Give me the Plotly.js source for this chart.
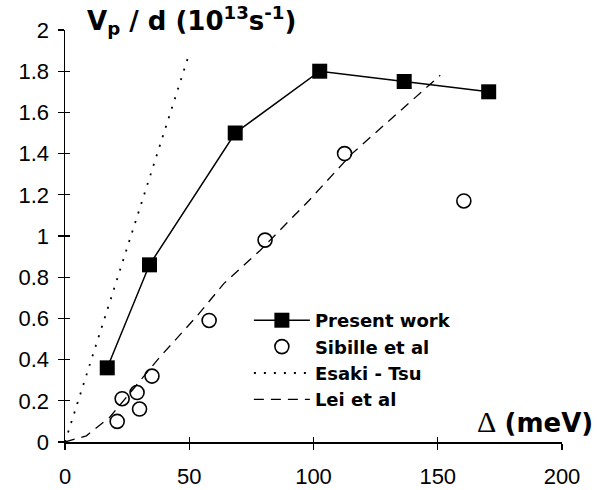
<!DOCTYPE html>
<html>
<head>
<meta charset="utf-8">
<script src="https://cdn.plot.ly/plotly-3.0.1.min.js"></script>
<style>html,body{margin:0;padding:0;background:#fff;}</style>
</head>
<body>
<div id="chart" style="width:597px;height:490px;"></div>
<script>
// Present work
const presentX = [17, 34, 68.5, 102.5, 136.5, 170.5];
const presentY = [0.36, 0.86, 1.50, 1.80, 1.75, 1.70];
// Sibille et al
const sibilleX = [21, 23, 29, 30, 35, 58, 80.5, 112.5, 160.5];
const sibilleY = [0.10, 0.21, 0.24, 0.16, 0.32, 0.59, 0.98, 1.40, 1.17];
// Esaki - Tsu
const esakiX = [0, 49.6];
const esakiY = [0, 1.87];
// Lei et al
const leiX = [0, 8.6, 18, 38, 53, 64, 78.5, 98, 115.5, 144.5, 151];
const leiY = [0, 0.03, 0.12, 0.41, 0.61, 0.77, 0.93, 1.17, 1.40, 1.71, 1.78];

const xTicks = [0, 50, 100, 150, 200];
const yTicks = [0, 0.2, 0.4, 0.6, 0.8, 1, 1.2, 1.4, 1.6, 1.8, 2];

const traces = [
  {x: presentX, y: presentY, name: 'Present work', type: 'scatter', mode: 'lines+markers',
   line: {color: '#000', width: 1.5}, marker: {symbol: 'square', size: 15, color: '#000'}},
  {x: sibilleX, y: sibilleY, name: 'Sibille et al', type: 'scatter', mode: 'markers',
   marker: {symbol: 'circle-open', size: 14, color: '#000', line: {width: 1.6, color: '#000'}}},
  {x: esakiX, y: esakiY, name: 'Esaki - Tsu', type: 'scatter', mode: 'lines',
   line: {color: '#000', width: 1.8, dash: '2px,8px'}},
  {x: leiX, y: leiY, name: 'Lei et al', type: 'scatter', mode: 'lines',
   line: {color: '#000', width: 1.3, dash: '10px,7px'}},
  // invisible helper for inside ticks
  {x: [0], y: [0], xaxis: 'x2', yaxis: 'y2', mode: 'markers', marker: {opacity: 0}, showlegend: false, hoverinfo: 'skip'}
];

const tickFont = {family: 'Arial, Liberation Sans, sans-serif', size: 22, color: '#000'};
const boldWide = 'DejaVu Sans, sans-serif';

const layout = {
  width: 597, height: 490,
  margin: {l: 65, r: 35, t: 30, b: 48},
  paper_bgcolor: '#fff', plot_bgcolor: '#fff',
  showlegend: true,
  xaxis: {range: [0, 200], tickvals: xTicks, ticks: 'outside', ticklen: 6, tickwidth: 1.3, tickcolor: '#000',
          showline: true, linecolor: '#000', linewidth: 1.5, showgrid: false, zeroline: false,
          tickfont: tickFont, ticklabelstandoff: 8},
  yaxis: {range: [0, 2], tickvals: yTicks, ticks: 'outside', ticklen: 6, tickwidth: 1.3, tickcolor: '#000',
          showline: true, linecolor: '#000', linewidth: 1.5, showgrid: false, zeroline: false,
          tickfont: tickFont, ticklabelstandoff: 4},
  xaxis2: {range: [0, 200], overlaying: 'x', tickvals: xTicks, ticks: 'inside', ticklen: 5, tickwidth: 1.3,
           tickcolor: '#000', showticklabels: false, showgrid: false, zeroline: false, showline: false},
  yaxis2: {range: [0, 2], overlaying: 'y', tickvals: yTicks, ticks: 'inside', ticklen: 5, tickwidth: 1.3,
           tickcolor: '#000', showticklabels: false, showgrid: false, zeroline: false, showline: false},
  legend: {x: 0.37, y: 0.199, xanchor: 'left', yanchor: 'middle', bgcolor: 'rgba(0,0,0,0)',
           font: {family: boldWide, size: 18, color: '#000', weight: 'bold'},
           itemwidth: 56, tracegroupgap: 0},
  annotations: [
    {xref: 'paper', yref: 'paper', x: 0.04, y: 1.022, xanchor: 'left', yanchor: 'middle', showarrow: false,
     text: '<b>V<sub>p</sub> / d (10<sup>13</sup>s<sup>-1</sup>)</b>',
     font: {family: boldWide, size: 26, color: '#000'}},
    {xref: 'paper', yref: 'paper', x: 1.066, y: 0.05, xanchor: 'right', yanchor: 'middle', showarrow: false,
     text: '<span style="font-family:\'Liberation Serif\',\'Times New Roman\',serif;font-weight:normal;font-size:30px">Δ</span> <b>(meV)</b>',
     font: {family: boldWide, size: 26, color: '#000'}}
  ]
};

Plotly.newPlot('chart', traces, layout, {displayModeBar: false, staticPlot: true});
</script>
</body>
</html>
